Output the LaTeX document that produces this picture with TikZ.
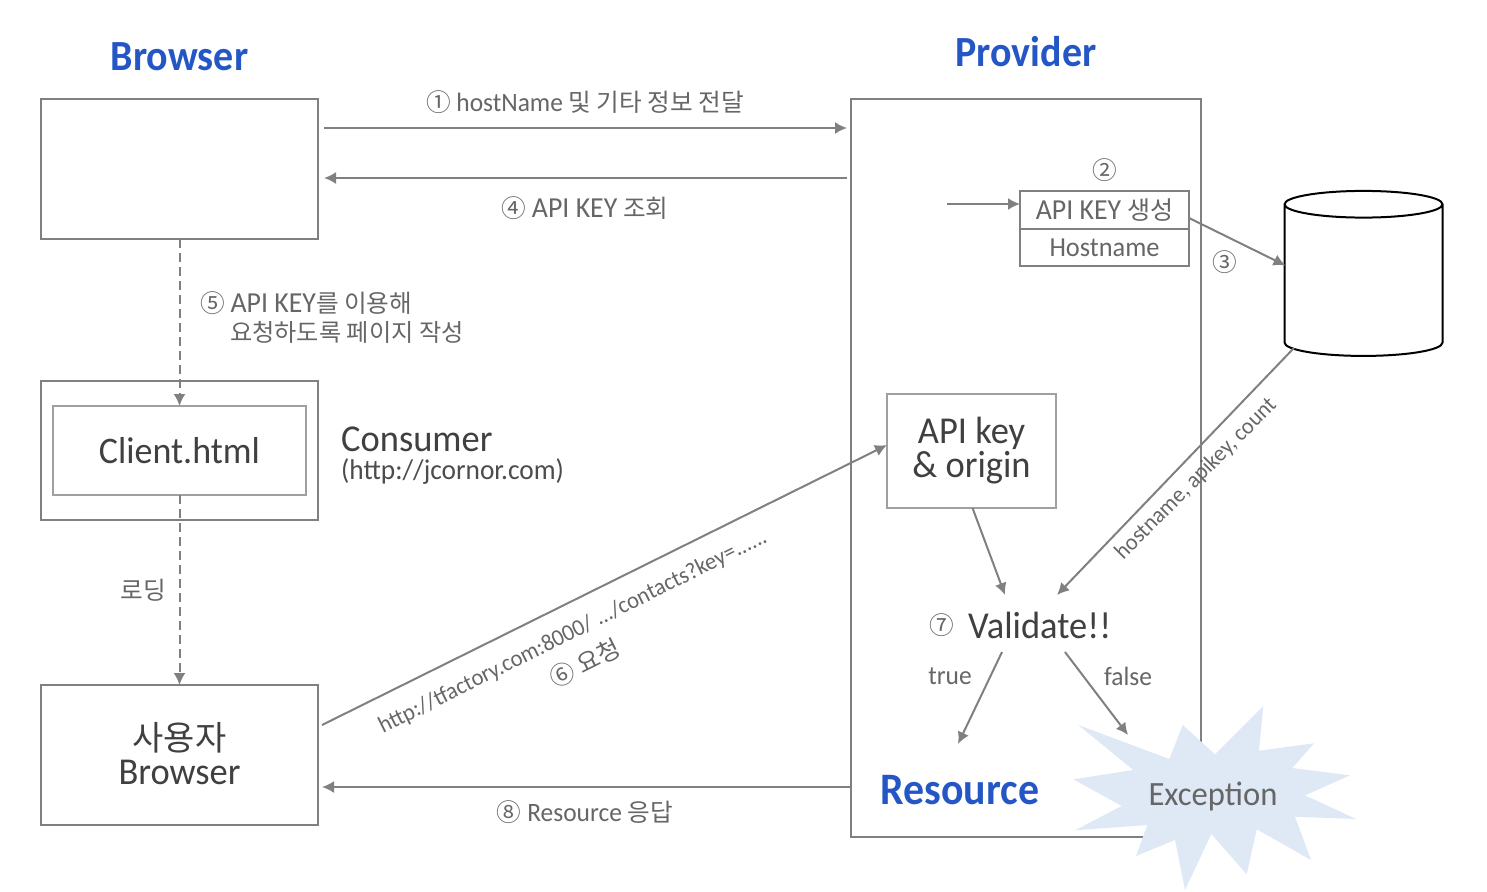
\documentclass[tikz,border=0pt]{standalone}
\usepackage{fontspec}
\setmainfont{Carlito}[FakeStretch=0.96]
\newfontfamily\narrow{Carlito}[FakeStretch=0.93]
\newfontfamily\kr{Noto Sans CJK KR}[Scale=0.93]
\newcommand{\apik}{{\fontsize{29}{29}\selectfont API KEY}}
\usetikzlibrary{arrows.meta,positioning,shapes.geometric}
\definecolor{linegray}{HTML}{808080}
\definecolor{lightgray}{HTML}{A0A0A0}
\definecolor{textgray}{HTML}{666666}
\definecolor{titleblue}{HTML}{2457C5}
\definecolor{burstblue}{HTML}{DEE9F5}
\tikzset{box/.style = {draw=linegray, line width=2pt, outer sep=0pt, inner sep=0pt, text=black!75, align=center},
         arr/.style = {draw=linegray, line width=2pt, -{Latex[length=12pt,width=12pt]}},
         dasharr/.style = {arr, dash pattern=on 9pt off 5pt},
         lab/.style = {text=textgray, font=\fontsize{26.5}{26.5}\selectfont, inner sep=0pt},
         big/.style = {text=black!75, font=\fontsize{38}{34}\selectfont, inner sep=0pt, align=center},
         title/.style = {text=titleblue, font=\narrow\bfseries\fontsize{43}{43}\selectfont, inner sep=0pt}
        }
\begin{document}
\begin{tikzpicture}[x=1pt, y=-1pt]
\useasboundingbox (0,0) rectangle (1487,891);
\foreach \n/\y/\h in {browser/169/140, consumer/450.5/139, user/755/140}
   \node[box, minimum width=277pt, minimum height=\h pt] (\n) at (179.5,\y) {};
\node[box, draw=lightgray, minimum width=253pt, minimum height=89pt, font=\fontsize{37.5}{37.5}\selectfont] (client) at (179.5,450.5) {Client.html};
\node[big, align=center] (userlab) at (179.5,753.5) {{\kr\fontsize{36.5}{34}\selectfont 사용자}\\Browser};
\node[box, minimum width=350pt, minimum height=738pt] (provider) at (1026,468) {};
\node[box, minimum width=169pt, minimum height=38pt, font=\fontsize{27}{27}\selectfont, text=textgray] (apikey) at (1104.5,210) {\apik{} {\kr\fontsize{27}{24}\selectfont 생성}};
\node[box, minimum width=169pt, minimum height=37pt, font=\fontsize{27.5}{27.5}\selectfont, text=textgray, below=0pt of apikey] (hostname) {Hostname};
\node[box, draw=lightgray, minimum width=169pt, minimum height=114pt] (origin) at (971.5,451) {};
\node[big] (originlab) at (971.5,451) {API key\\\& origin};
\node[cylinder, shape border rotate=90, aspect=4, draw=black, line width=2pt, outer sep=0pt, minimum width=158pt, minimum height=165pt] (db) at (1363.5,282.5) {};
% labels
\node[title] (tbrowser) at (179.5,57) {Browser};
\node[title] (tprovider) at (1026,52) {Provider};
\node[title, font=\narrow\bfseries\fontsize{45}{45}\selectfont] (tresource) at (960,790) {Resource};
\node[lab] (l1) at (585,102) {{\kr ①} hostName {\kr 및 기타 정보 전달}};
\node[lab] (l4) at (585,208) {{\kr ④} \apik{} {\kr 조회}};
\node[lab, above=9pt of apikey] (l2) {\kr ②};
\node[lab] (l3) at (1225,262) {\kr ③};
\node[lab, anchor=west] (l5a) at (200,303) {{\kr ⑤} \apik{\kr 를 이용해}};
\node[lab, anchor=west, font=\fontsize{26}{26}\selectfont] (l5b) at (230,332) {\kr 요청하도록 페이지 작성};
\node[big, anchor=west] (lcons) at (341,439) {Consumer};
\node[lab, anchor=west, text=black!70, font=\fontsize{28.5}{28.5}\selectfont] (lurl) at (341,472) {(http://jcornor.com)};
\node[lab] (lload) at (143,590) {\kr 로딩};
\node[lab, rotate=26.5, font=\fontsize{23.5}{23.5}\selectfont] (l6a) at (573,632) {http://tfactory.com:8000/ .../contacts?key=......};
\node[lab, rotate=26.5] (l6b) at (585,663) {{\kr ⑥ 요청}};
\node[lab, rotate=45, font=\fontsize{23}{23}\selectfont] (lhost) at (1196,479) {hostname, apikey, count};
\node[lab] (l7) at (942,625) {\kr ⑦};
\node[big, anchor=west] (valid) at (968,625) {Validate!!};
\node[lab] (ltrue) at (950,676) {true};
\node[lab] (lfalse) at (1128,676) {false};
\node[lab] (l8) at (585,812) {{\kr ⑧} Resource {\kr 응답}};
% burst
\fill[burstblue] (1078.3,725) -- (1169.3,759) -- (1182.7,725) -- (1215,754.3) -- (1263.3,706) -- (1259,750.7) -- (1314,743.3) -- (1292.3,768) -- (1350,775.3) -- (1305,795.3) -- (1356,819) -- (1295,816.7) -- (1311,860) -- (1256.7,829.3) -- (1246.7,874.3) -- (1211.3,834) -- (1185,890) -- (1175,840) -- (1136,856) -- (1147.3,825) -- (1075,830.3) -- (1121.7,806) -- (1073.3,779.3) -- (1133.3,770) -- cycle;
\node[lab, font=\fontsize{34}{34}\selectfont] (exc) at (1213,796) {Exception};
% connectors
\draw[arr] ([xshift=6pt,yshift=41pt]browser.east) -- ([xshift=-4pt,yshift=41pt]browser.east -| provider.west);
\draw[arr] ([xshift=-4pt,yshift=-9pt]browser.east -| provider.west) -- ([xshift=6pt,yshift=-9pt]browser.east);
\draw[arr] ([xshift=-73pt,yshift=6pt]apikey.west) -- ([yshift=6pt]apikey.west);
\draw[arr] ([yshift=-8pt]apikey.east) -- ([xshift=1pt,yshift=17pt]db.west);
\draw[dasharr] (browser.south) -- (client.north);
\draw[dasharr] (client.south) -- (user.north);
\draw[arr] ([xshift=-69.5pt,yshift=8pt]db.south) -- ([xshift=89pt,yshift=30pt]valid.west);
\draw[arr] ([xshift=4pt,yshift=30pt]user.east) -- ([yshift=6pt]origin.west);
\draw[arr] ([xshift=1pt]origin.south) -- ([xshift=37pt,yshift=30pt]valid.west);
\draw[arr] ([xshift=34pt,yshift=-27pt]valid.west) -- ++(-44,92);
\draw[arr] ([xshift=97pt,yshift=-27pt]valid.west) -- ++(63,83);
\draw[arr] (provider.west |- 0,787) -- ([xshift=4pt,yshift=-32pt]user.east);
\end{tikzpicture}
\end{document}
